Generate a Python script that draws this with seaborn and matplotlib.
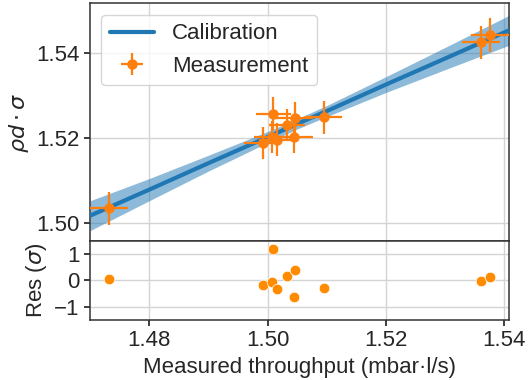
import numpy as np
import pandas as pd
import matplotlib
matplotlib.use("Agg")
import matplotlib.pyplot as plt
import seaborn as sns

# ---- data ----
meas_x = [1.4732, 1.4992, 1.5010, 1.5008, 1.5016, 1.5033, 1.5046, 1.5045, 1.5095, 1.5360, 1.5376]
meas_y = [1.5035, 1.5188, 1.5257, 1.5202, 1.5196, 1.5230, 1.5246, 1.5202, 1.5248, 1.5424, 1.5441]
meas_xerr = [0.0032, 0.0031, 0.0030, 0.0031, 0.0031, 0.0031, 0.0031, 0.0031, 0.0031, 0.0032, 0.0032]
meas_yerr = [0.0038, 0.0038, 0.0039, 0.0038, 0.0038, 0.0038, 0.0038, 0.0038, 0.0039, 0.0039, 0.0039]
residuals = [0.05, -0.18, 1.18, -0.06, -0.34, 0.18, 0.38, -0.61, -0.29, -0.04, 0.13]

cal_x = [1.470, 1.480, 1.490, 1.500, 1.505, 1.510, 1.520, 1.530, 1.5408]
cal_y = [1.5018, 1.5079, 1.5141, 1.5202, 1.5233, 1.5263, 1.5325, 1.5386, 1.5452]
cal_halfwidth = [0.0035, 0.0026, 0.00185, 0.0013, 0.0012, 0.0013, 0.00185, 0.0026, 0.0035]

x_ticks = [1.48, 1.50, 1.52, 1.54]
y_ticks = [1.50, 1.52, 1.54]
res_ticks = [-1, 0, 1]

sns.set_theme(style="whitegrid", rc={
    "axes.edgecolor": ".2",
    "axes.linewidth": 1.1,
    "grid.color": ".83",
    "grid.linewidth": 1.0,
    "xtick.bottom": True,
    "ytick.left": True,
    "xtick.major.size": 4,
    "ytick.major.size": 4,
    "xtick.color": ".15",
    "ytick.color": ".15",
})
plt.rcParams["font.family"] = ["Liberation Sans", "DejaVu Sans"]
plt.rcParams["mathtext.fontset"] = "dejavusans"
FS = 16

cal = pd.DataFrame({"x": cal_x, "y": cal_y, "hw": cal_halfwidth})
meas = pd.DataFrame({"x": meas_x, "y": meas_y, "xerr": meas_xerr, "yerr": meas_yerr, "res": residuals})

fig = plt.figure(figsize=(5.28, 3.8), dpi=100)
ax = fig.add_axes([0.1705, 0.366, 0.7935, 0.625])
axr = fig.add_axes([0.1705, 0.158, 0.7935, 0.208], sharex=ax)

ax.fill_between(cal["x"], cal["y"] - cal["hw"], cal["y"] + cal["hw"],
                color="#1f77b4", alpha=0.5, linewidth=0, zorder=2)
sns.lineplot(data=cal, x="x", y="y", ax=ax, color="#1f77b4", linewidth=3,
             label="Calibration", zorder=3)
ax.errorbar(meas["x"], meas["y"], xerr=meas["xerr"], yerr=meas["yerr"],
            fmt="o", color="#ff7f0e", ms=6.5, elinewidth=1.6, capsize=0,
            label="Measurement", zorder=4)

sns.scatterplot(data=meas, x="x", y="res", ax=axr, color="#ff8c00", s=58,
                edgecolor="white", linewidth=0.5, zorder=3)

ax.set_xlim(1.470, 1.5408)
ax.set_ylim(1.4959, 1.5515)
axr.set_ylim(-1.5, 1.5)
ax.set_yticks(y_ticks)
ax.set_yticklabels([f"{v:.2f}" for v in y_ticks], fontsize=FS)
axr.set_xticks(x_ticks)
axr.set_xticklabels([f"{v:.2f}" for v in x_ticks], fontsize=FS)
axr.set_yticks(res_ticks)
axr.set_yticklabels(["\u22121", "0", "1"], fontsize=FS)
ax.tick_params(axis="x", bottom=False, labelbottom=False)

ax.set_xlabel("")
ax.set_ylabel(r"$\rho d \cdot \sigma$", fontsize=FS)
axr.set_ylabel(r"Res ($\sigma$)", fontsize=FS)
axr.set_xlabel("Measured throughput (mbar\u00b7l/s)", fontsize=FS)

ax.legend(loc="upper left", fontsize=FS, frameon=True, handlelength=2.0)

fig.savefig("out.png", dpi=100)
